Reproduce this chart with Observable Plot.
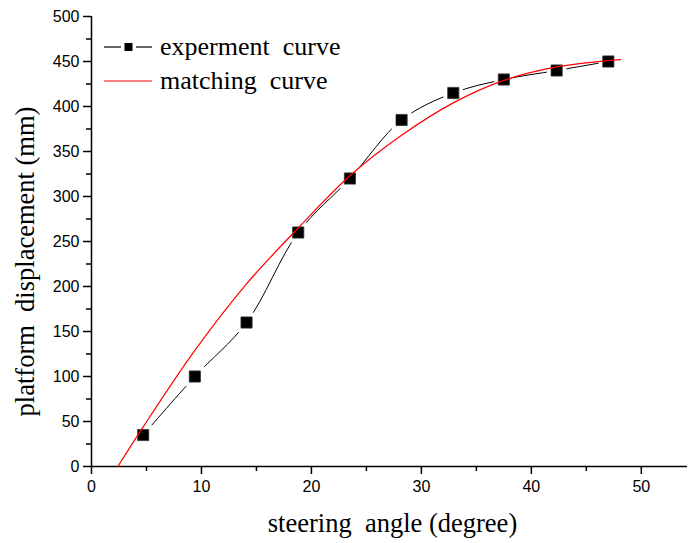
<!DOCTYPE html>
<html><head><meta charset="utf-8">
<script src="https://cdn.jsdelivr.net/npm/d3@7"></script>
<script src="https://cdn.jsdelivr.net/npm/@observablehq/plot@0.6"></script>
<style>
body{margin:0;background:#fff;}
#wrap{position:relative;width:690px;height:543px;}
#legend{position:absolute;left:104px;top:30px;font-family:"Liberation Serif",serif;font-size:26px;color:#000;white-space:pre;}
#legend div{display:flex;align-items:center;height:34px;}
#legend svg{margin-right:6px;}
</style></head>
<body><div id="wrap"><div id="legend"></div></div>
<script>
const expX = [4.7, 9.4, 14.1, 18.8, 23.5, 28.2, 32.9, 37.5, 42.3, 47.0];
const expY = [35, 100, 160, 260, 320, 385, 415, 430, 440, 450];
const fitX = [2.4, 4.7, 9.4, 14.1, 18.8, 23.5, 28.2, 32.9, 37.5, 42.3, 47.0, 48.1];
const fitY = [0, 44, 129, 203, 265, 323, 368, 404, 429, 444, 451, 452];
const xTicks = [0, 10, 20, 30, 40, 50];
const yTicks = [0, 50, 100, 150, 200, 250, 300, 350, 400, 450, 500];
const xMinor = [5, 15, 25, 35, 45];
const yMinor = [25, 75, 125, 175, 225, 275, 325, 375, 425, 475];
const seriesNames = ["experment  curve", "matching  curve"];
const xLabel = "steering  angle (degree)";
const yLabel = "platform  displacement (mm)";

const exp = expX.map((x, i) => ({x, y: expY[i]}));
const fit = fitX.map((x, i) => ({x, y: fitY[i]}));

const chart = Plot.plot({
  width: 690, height: 543,
  marginLeft: 91, marginRight: 3, marginTop: 16, marginBottom: 77,
  style: {fontFamily: "'Liberation Sans', Arial, sans-serif", fontSize: "16px", color: "#000", background: "#fff", whiteSpace: "pre"},
  x: {domain: [0, 54.2]},
  y: {domain: [0, 500]},
  marks: [
    Plot.axisX({ticks: xMinor, tickFormat: () => "", tickSize: 5, strokeWidth: 1.5, label: null}),
    Plot.axisX({ticks: xTicks, tickSize: 8, tickPadding: 6, strokeWidth: 1.5, label: null, fontSize: 16}),
    Plot.axisY({ticks: yMinor, tickFormat: () => "", tickSize: 5, strokeWidth: 1.5, label: null}),
    Plot.axisY({ticks: yTicks, tickSize: 8, tickPadding: 4, strokeWidth: 1.5, label: null, fontSize: 16}),
    Plot.ruleY([0], {stroke: "#000", strokeWidth: 1.5}),
    Plot.ruleX([0], {stroke: "#000", strokeWidth: 1.5}),
    Plot.line(exp, {x: "x", y: "y", curve: "catmull-rom", stroke: "#000", strokeWidth: 1}),
    Plot.dot(exp, {x: "x", y: "y", symbol: "square", r: 11, fill: "#fff", stroke: "none"}),
    Plot.dot(exp, {x: "x", y: "y", symbol: "square", r: 6.3, fill: "#000", stroke: "#333", strokeWidth: 0.8}),
    Plot.line(fit, {x: "x", y: "y", curve: "catmull-rom", stroke: "#ff0000", strokeWidth: 1.2}),
    Plot.text([xLabel], {frameAnchor: "bottom", lineAnchor: "middle", textAnchor: "middle", dx: 3, dy: 57, fontFamily: "'Liberation Serif', serif", fontSize: 26.5, fill: "#000"}),
    Plot.text([yLabel], {frameAnchor: "left", lineAnchor: "middle", textAnchor: "middle", rotate: -90, dx: -66, dy: 20, fontFamily: "'Liberation Serif', serif", fontSize: 26.5, fill: "#000"})
  ]
});
const wrap = document.getElementById("wrap");
wrap.insertBefore(chart, wrap.firstChild);

const legend = document.getElementById("legend");
legend.innerHTML =
  `<div><svg width="50" height="20"><line x1="0" x2="17" y1="10" y2="10" stroke="#000" stroke-width="1.2"/><line x1="32" x2="48" y1="10" y2="10" stroke="#000" stroke-width="1.2"/><rect x="20.5" y="6" width="8" height="8" fill="#000"/></svg><span>${seriesNames[0]}</span></div>` +
  `<div><svg width="50" height="20"><line x1="0" x2="48" y1="10" y2="10" stroke="#ff0000" stroke-width="1.2"/></svg><span>${seriesNames[1]}</span></div>`;
</script>
</body></html>
